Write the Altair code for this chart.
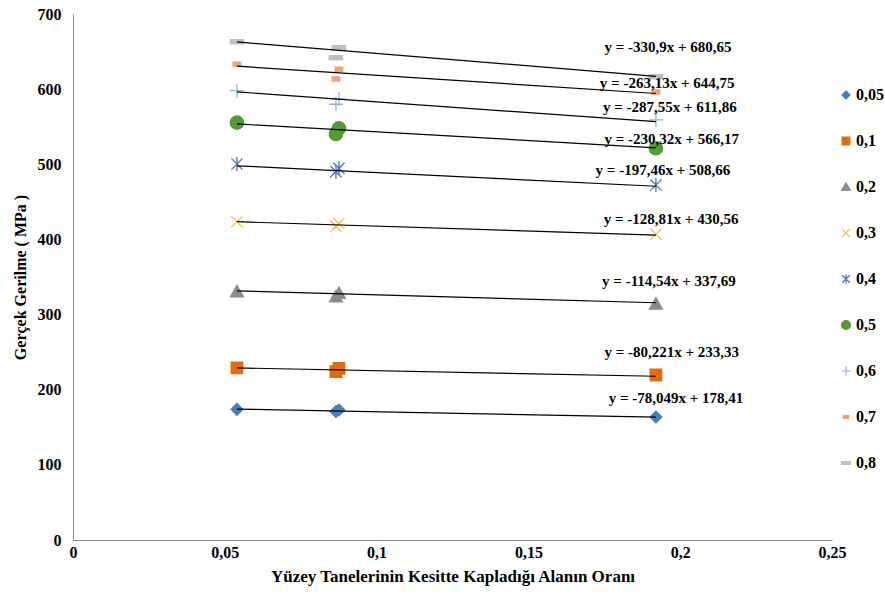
import altair as alt
import pandas as pd

# Series names (legend entries)
series = ["0,05", "0,1", "0,2", "0,3", "0,4", "0,5", "0,6", "0,7", "0,8"]

# Fraction of cross-section covered by surface grains (x positions of the samples)
x_pts = [0.054, 0.0876, 0.0866, 0.192]

# True stress (MPa) for each series at the x positions above
s_005 = [173.9, 173.0, 171.0, 163.7]
s_01 = [229.2, 228.5, 224.0, 219.6]
s_02 = [330.4, 328.3, 323.8, 314.1]
s_03 = [423.6, 420.9, 417.7, 407.0]
s_04 = [500.4, 494.7, 490.2, 472.4]
s_05 = [555.4, 547.9, 540.3, 521.3]
s_06 = [598.0, 586.9, 579.9, 559.0]
s_07 = [633.1, 626.4, 613.5, 596.2]
s_08 = [663.2, 655.2, 641.9, 616.6]
stress = [s_005, s_01, s_02, s_03, s_04, s_05, s_06, s_07, s_08]

# Linear trendline coefficients (y = slope * x + intercept)
slopes = [-78.049, -80.221, -114.54, -128.81, -197.46, -230.32, -287.55, -263.13, -330.9]
intercepts = [178.41, 233.33, 337.69, 430.56, 508.66, 566.17, 611.86, 644.75, 680.65]

# Where each equation label sits (data coordinates)
label_x = [0.1986, 0.1972, 0.1963, 0.197, 0.1943, 0.1972, 0.1966, 0.1957, 0.196]
label_y = [189.0, 250.2, 344.8, 427.3, 492.4, 533.7, 576.3, 608.2, 656.1]

# Marker styling per series
stroke_colors = ["#4A7EBB", "#E36C0A", "#8C8C8C", "#F2C14E", "#4F6FC4",
                 "#539B32", "#95B3D7", "#F4A07A", "#BFBFBF"]
fill_colors = ["#4A7EBB", "#E36C0A", "#8C8C8C", "transparent", "transparent",
               "#539B32", "transparent", "#F4A07A", "#BFBFBF"]
shape_paths = [
    "M0,-0.84L0.84,0L0,0.84L-0.84,0Z",                                  # diamond
    "M-0.82,-0.82L0.82,-0.82L0.82,0.82L-0.82,0.82Z",                    # square
    "M0,-0.9L0.92,0.72L-0.92,0.72Z",                                    # triangle
    "M-0.8,-0.8L0.8,0.8M-0.8,0.8L0.8,-0.8",                             # x
    "M0,-1L0,1M-0.8,-0.8L0.8,0.8M-0.8,0.8L0.8,-0.8",                    # asterisk
    "M-0.95,0A0.95,0.95,0,1,1,0.95,0A0.95,0.95,0,1,1,-0.95,0Z",         # circle
    "M-1,0L1,0M0,-1L0,1",                                               # plus
    "M-0.55,-0.3L0.55,-0.3L0.55,0.3L-0.55,0.3Z",                        # short dash
    "M-0.95,-0.3L0.95,-0.3L0.95,0.3L-0.95,0.3Z",                        # long dash
]

FONT = "'Liberation Serif', 'Times New Roman', Times, serif"


def fmt(v):
    return str(v).replace(".", ",")


point_rows = []
line_rows = []
label_rows = []
for i, name in enumerate(series):
    for xv, yv in zip(x_pts, stress[i]):
        point_rows.append({"series": name, "x": xv, "y": yv})
    for xv in (min(x_pts), max(x_pts)):
        line_rows.append({"series": name, "x": xv, "y": slopes[i] * xv + intercepts[i]})
    sign = "+" if intercepts[i] >= 0 else "-"
    label_rows.append({
        "series": name,
        "x": label_x[i],
        "y": label_y[i],
        "text": f"y = {fmt(slopes[i])}x {sign} {fmt(abs(intercepts[i]))}",
    })

points_df = pd.DataFrame(point_rows)
lines_df = pd.DataFrame(line_rows)
labels_df = pd.DataFrame(label_rows)

x_axis = alt.Axis(
    values=[0, 0.05, 0.1, 0.15, 0.2, 0.25],
    format=".2~f",
    labelExpr="replace(datum.label, '.', ',')",
    grid=False, ticks=False, domainColor="#868686", domainWidth=1,
    labelFont=FONT, labelFontSize=16, labelFontWeight="bold", labelColor="black",
    labelPadding=4, labelFlush=False,
    title="Yüzey Tanelerinin Kesitte Kapladığı Alanın Oranı",
    titleFont=FONT, titleFontSize=17, titleFontWeight="bold", titleColor="black",
    titlePadding=8,
)
y_axis = alt.Axis(
    values=[0, 100, 200, 300, 400, 500, 600, 700],
    grid=False, ticks=False, domainColor="#868686", domainWidth=1,
    labelFont=FONT, labelFontSize=16, labelFontWeight="bold", labelColor="black",
    labelPadding=12, labelFlush=False,
    title="Gerçek Gerilme ( MPa )",
    titleFont=FONT, titleFontSize=16, titleFontWeight="bold", titleColor="black",
    titlePadding=9,
)

x_enc = alt.X("x:Q", scale=alt.Scale(domain=[0, 0.25], nice=False), axis=x_axis)
y_enc = alt.Y("y:Q", scale=alt.Scale(domain=[0, 700], nice=False), axis=y_axis)

legend = alt.Legend(
    title=None, orient="none", legendX=765, legendY=73, direction="vertical",
    labelFont=FONT, labelFontSize=16, labelFontWeight="bold", labelColor="black",
    symbolSize=90, symbolStrokeWidth=1.2, rowPadding=30, padding=0, labelOffset=2,
)

points = alt.Chart(points_df).mark_point(size=196, strokeWidth=1.3, opacity=1).encode(
    x=x_enc,
    y=y_enc,
    color=alt.Color("series:N", sort=series,
                    scale=alt.Scale(domain=series, range=stroke_colors), legend=legend),
    fill=alt.Fill("series:N", sort=series,
                  scale=alt.Scale(domain=series, range=fill_colors), legend=legend),
    shape=alt.Shape("series:N", sort=series,
                    scale=alt.Scale(domain=series, range=shape_paths), legend=legend),
)

trend = alt.Chart(lines_df).mark_line(color="black", strokeWidth=1.2).encode(
    x="x:Q", y="y:Q", detail="series:N",
)

labels = alt.Chart(labels_df).mark_text(
    font=FONT, fontSize=15, fontWeight="bold", color="black",
    align="center", baseline="middle",
).encode(x="x:Q", y="y:Q", text="text:N")

chart = alt.layer(points, trend, labels).properties(
    width=759,
    height=526,
    autosize="none",
    padding={"left": 73, "top": 14, "right": 53, "bottom": 57},
    background="white",
).configure_view(stroke=None)

chart.save("out.html", embed_options={"renderer": "svg", "actions": False})
